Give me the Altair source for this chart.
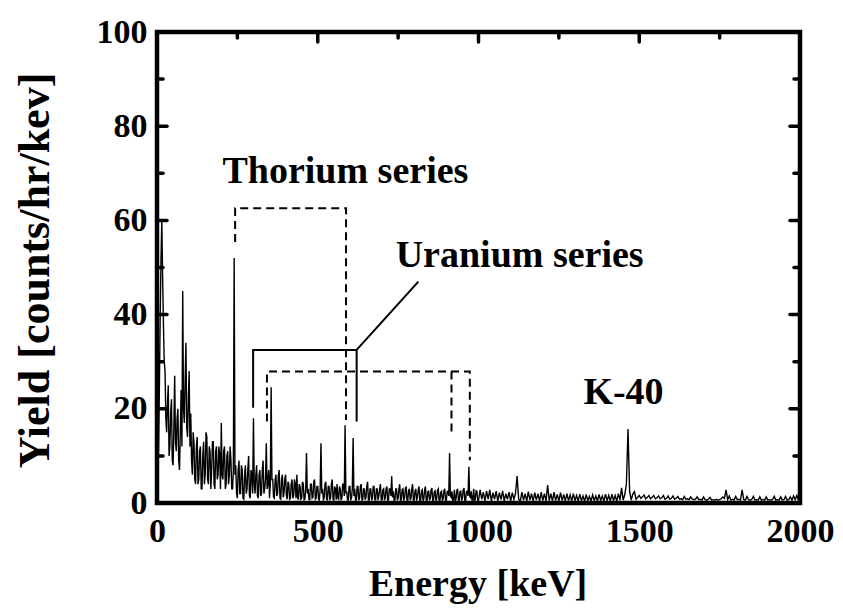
import altair as alt
import pandas as pd

# ---------------- data ----------------
# 0 - 997.5 keV, 2.5 keV channels
low_start_kev, low_step_kev = 0, 2.5
yield_low = [
    3, 6, 12, 25, 40, 52, 60, 48, 38, 30, 28, 18, 15, 21, 25, 10, 12, 19, 22, 9,
    8, 16, 27, 13, 11, 18, 20, 9, 7, 15, 24, 12, 45, 20, 17, 26, 34, 16, 14, 22,
    28, 12, 19, 9, 6, 15, 13, 5, 4, 12, 14, 4, 5, 11, 12, 3, 3, 10, 13, 4,
    6, 15, 14, 5, 4, 12, 11, 3, 7, 13, 13, 4, 3, 11, 12, 5, 6, 12, 10, 3,
    17, 6, 5, 11, 12, 3, 4, 10, 11, 4, 6, 12, 9, 3, 3, 7, 52, 6, 8, 2,
    1, 7, 9, 2, 2, 8, 7, 1, 0.8, 6, 8, 2, 3, 7, 10, 1.5, 1, 7, 6, 2,
    18, 4, 2, 6, 8, 1.5, 1, 6, 7, 1.5, 2, 7, 9, 2, 3, 5, 12.7, 3, 4, 7,
    1, 4, 24.6, 5, 5, 1.2, 1, 5, 6, 1.5, 2, 6, 7, 1, 0.8, 5, 6, 1.2, 2, 5,
    6, 1.5, 0.8, 4.5, 4, 0.8, 1, 4, 5, 1, 1.5, 5, 4, 1, 6, 1.2, 0.7, 4, 3.5, 0.8,
    1, 4.5, 4, 0.7, 0.8, 3, 10.6, 2, 3, 0.8, 0.7, 4, 4, 1, 1.2, 4.5, 5, 0.8, 1, 3.5,
    3.5, 0.8, 0.6, 3, 12.7, 2, 3, 0.7, 1, 4, 4.5, 0.8, 0.7, 3.5, 3.5, 0.6, 1.2, 4, 5, 0.8,
    0.6, 3.5, 3, 0.7, 4, 1, 0.8, 3.5, 3, 0.6, 1, 4, 4, 1.5, 16.5, 2, 2.5, 0.7, 0.6, 3.5,
    3.5, 0.7, 1, 3, 13.8, 1.5, 3, 0.6, 0.6, 3.5, 3.5, 0.6, 1, 3.5, 4, 0.6, 0.7, 3, 3, 0.7,
    1.2, 3.5, 4.5, 0.6, 0.6, 3, 3, 0.6, 1, 3.5, 3.5, 0.7, 0.7, 3, 3, 0.6, 1.5, 3, 4, 0.6,
    0.6, 2.8, 3, 0.6, 1, 3, 3.5, 0.5, 0.7, 3, 3, 1.5, 5.7, 1.2, 2.5, 0.5, 0.6, 3, 3, 0.6,
    1, 3, 4, 0.5, 0.7, 2.8, 3, 0.5, 1.1, 3, 3.5, 0.6, 0.5, 2.6, 3, 0.6, 1, 3, 4, 0.5,
    0.6, 2.5, 3, 0.5, 1.2, 2.8, 3.5, 0.5, 0.5, 2.5, 2.8, 0.5, 0.9, 2.8, 3.5, 0.5, 0.5, 2.4, 2.5, 0.6,
    1, 2.8, 3.2, 0.5, 0.6, 2.4, 2.6, 0.5, 0.9, 2.7, 3, 0.5, 0.5, 2.3, 2.5, 0.5, 0.9, 2.6, 3, 0.5,
    0.6, 2.4, 2.5, 1.5, 10.6, 1.5, 1.2, 2.5, 0.5, 0.6, 2.8, 0.5, 0.8, 2.6, 3, 0.5, 0.5, 2.4, 2.5, 0.5,
    1, 2.8, 3.2, 0.5, 0.5, 2.4, 2.5, 1.5, 7.7, 1.5, 1.2, 2.5, 0.5, 0.6, 3, 0.5, 0.8, 2.6, 2.5, 0.5,
]
# 1000 - 2000 keV, 5 keV channels
high_start_kev, high_step_kev = 1000, 5
yield_high = [
    0.5, 2.8, 0.8, 2.3, 0.4, 2.5, 0.8, 2.8, 0.4, 2.2, 0.8, 2.5, 0.4, 2.2, 0.7, 2.6, 0.4, 2, 0.8, 2.3,
    0.4, 2.2, 0.8, 2, 5.7, 0.8, 0.4, 2.3, 0.6, 2, 0.4, 2.4, 0.6, 2, 0.4, 2.2, 0.6, 2, 0.4, 2.3,
    0.5, 2, 0.4, 3.8, 0.5, 2, 0.4, 2.3, 0.5, 1.8, 0.4, 2.2, 0.5, 1.8, 0.4, 2, 0.5, 1.7, 0.4, 2,
    0.5, 1.6, 0.4, 1.9, 0.5, 1.5, 0.4, 1.8, 0.5, 1.4, 0.4, 1.7, 0.5, 1.5, 0.4, 1.8, 0.5, 1.5, 0.4, 1.9,
    0.5, 1.6, 0.4, 1.9, 0.5, 1.6, 0.4, 2, 0.6, 3.2, 0.6, 1.8, 4, 15.7, 2.5, 0.6, 1.9, 2.4, 0.8, 1.2,
    1.6, 1, 1.3, 1.7, 0.9, 1.2, 1.6, 0.9, 1.2, 1.6, 0.9, 1.1, 1.5, 0.9, 1.1, 1.6, 0.8, 1, 1.5, 0.8,
    1, 1.5, 0.8, 1, 1.4, 0.8, 0.9, 0.7, 1.4, 0.8, 0.9, 0.7, 1.3, 0.8, 0.7, 0.8, 1.3, 0.7, 0.8, 0.6,
    1.3, 0.7, 0.6, 0.8, 1.2, 0.6, 0.7, 0.6, 0.8, 0.6, 0.7, 0.9, 1.3, 1, 2.8, 0.7, 1.5, 0.6, 0.8, 0.6,
    1.4, 0.7, 0.8, 0.6, 2.8, 0.7, 0.6, 1.4, 0.7, 0.6, 0.8, 1.4, 0.6, 0.7, 0.6, 1.3, 0.6, 0.7, 0.6, 1.3,
    0.6, 0.7, 0.6, 0.8, 1.4, 0.6, 0.7, 0.6, 1.3, 0.6, 0.7, 1.4, 0.6, 0.7, 1.3, 0.6, 1.5, 0.7, 1.6, 0.7,
    0.8,
]
energy_kev = ([low_start_kev + i * low_step_kev for i in range(len(yield_low))]
              + [high_start_kev + i * high_step_kev for i in range(len(yield_high))])
yield_counts = yield_low + yield_high

x_major_ticks = [0, 500, 1000, 1500, 2000]
y_major_ticks = [0, 20, 40, 60, 80, 100]
x_inner_major = [500, 1000, 1500]
x_inner_minor = [250, 750, 1250, 1750]
y_inner_major = [20, 40, 60, 80]
y_inner_minor = [10, 30, 50, 70, 90]

# annotation brackets (energy, yield)
dashed_paths = {
    "thorium": [(243, 55.4), (243, 62.6), (588, 62.6), (588, 17.6)],
    "uranium_dash": [(342, 17.3), (342, 27.9), (973, 27.9), (973, 9.1)],
    "uranium_mid": [(916, 27.9), (916, 14.8)],
}
solid_paths = {
    "uranium_solid": [(299, 20.2), (299, 32.5), (621, 32.5), (621, 17.3)],
    "leader": [(621, 32.5), (813, 47.0)],
}
label_texts = ["Thorium series", "Uranium series", "K-40"]
label_x = [586, 1128, 1451]
label_y = [67.9, 50.2, 21.0]

# ---------------- chart ----------------
W, H = 643, 471
FONT = "Liberation Serif"

xs = alt.Scale(domain=[0, 2000], nice=False, zero=False)
ys = alt.Scale(domain=[0, 100], nice=False, zero=False)

spec_df = pd.DataFrame({"energy": energy_kev, "yield": yield_counts})

spectrum = alt.Chart(spec_df).mark_line(color="black", strokeWidth=1.4).encode(
    x=alt.X("energy:Q", scale=xs,
            axis=alt.Axis(values=x_major_ticks, format="d", grid=False, domain=False,
                          ticks=False, tickSize=0, labelFont=FONT, labelFontWeight="bold",
                          labelFontSize=34, labelColor="black", labelBaseline="alphabetic",
                          labelPadding=38.7, labelFlush=False, labelOverlap=False,
                          title="Energy [keV]", titleFont=FONT, titleFontWeight="bold",
                          titleFontSize=38, titleColor="black", titleX=320.5, titleY=92,
                          titleAlign="center", titleBaseline="alphabetic")),
    y=alt.Y("yield:Q", scale=ys,
            axis=alt.Axis(values=y_major_ticks, format="d", grid=False, domain=False,
                          ticks=False, tickSize=0, labelFont=FONT, labelFontWeight="bold",
                          labelFontSize=34, labelColor="black", labelBaseline="middle",
                          labelPadding=10, labelFlush=False, labelOverlap=False,
                          title="Yield [counts/hr/kev]", titleFont=FONT, titleFontWeight="bold",
                          titleFontSize=44, titleColor="black", titleAngle=270,
                          titleX=-109, titleY=238, titleAlign="center",
                          titleBaseline="alphabetic")),
    order="energy:Q",
)


def paths_df(paths):
    rows = []
    for name, pts in paths.items():
        for i, (e, v) in enumerate(pts):
            rows.append({"path": name, "i": i, "e": e, "v": v})
    return pd.DataFrame(rows)


dashed = alt.Chart(paths_df(dashed_paths)).mark_line(
    color="black", strokeWidth=2, strokeDash=[8, 5]).encode(
    x=alt.X("e:Q", scale=xs), y=alt.Y("v:Q", scale=ys), detail="path:N", order="i:Q")

solid = alt.Chart(paths_df(solid_paths)).mark_line(
    color="black", strokeWidth=2).encode(
    x=alt.X("e:Q", scale=xs), y=alt.Y("v:Q", scale=ys), detail="path:N", order="i:Q")

labels = alt.Chart(pd.DataFrame({"t": label_texts, "e": label_x, "v": label_y})).mark_text(
    font=FONT, fontWeight="bold", fontSize=38, color="black",
    align="center", baseline="alphabetic").encode(
    x=alt.X("e:Q", scale=xs), y=alt.Y("v:Q", scale=ys), text="t:N")


def vticks(vals, length, side):
    df = pd.DataFrame({"v": vals})
    m = alt.Chart(df).mark_rule(color="black", strokeWidth=3.5, strokeCap="round")
    if side == "left":
        return m.encode(y=alt.Y("v:Q", scale=ys), x=alt.value(0), x2=alt.value(length))
    return m.encode(y=alt.Y("v:Q", scale=ys), x=alt.value(W), x2=alt.value(W - length))


def hticks(vals, length):
    df = pd.DataFrame({"e": vals})
    return alt.Chart(df).mark_rule(color="black", strokeWidth=3.5, strokeCap="round").encode(
        x=alt.X("e:Q", scale=xs), y=alt.value(0), y2=alt.value(length))


ticks = [
    vticks(y_inner_major, 10, "left"), vticks(y_inner_minor, 6, "left"),
    vticks(y_inner_major, 10, "right"), vticks(y_inner_minor, 6, "right"),
    hticks(x_inner_major, 10), hticks(x_inner_minor, 6),
]

chart = alt.layer(spectrum, dashed, solid, labels, *ticks).properties(
    width=W, height=H,
    autosize=alt.AutoSizeParams(type="none"),
    padding={"left": 149, "top": 24, "right": 35, "bottom": 101},
    background="white",
).configure_view(stroke="black", strokeWidth=4.5)

chart.save("out.html", embed_options={"renderer": "svg", "actions": False})
